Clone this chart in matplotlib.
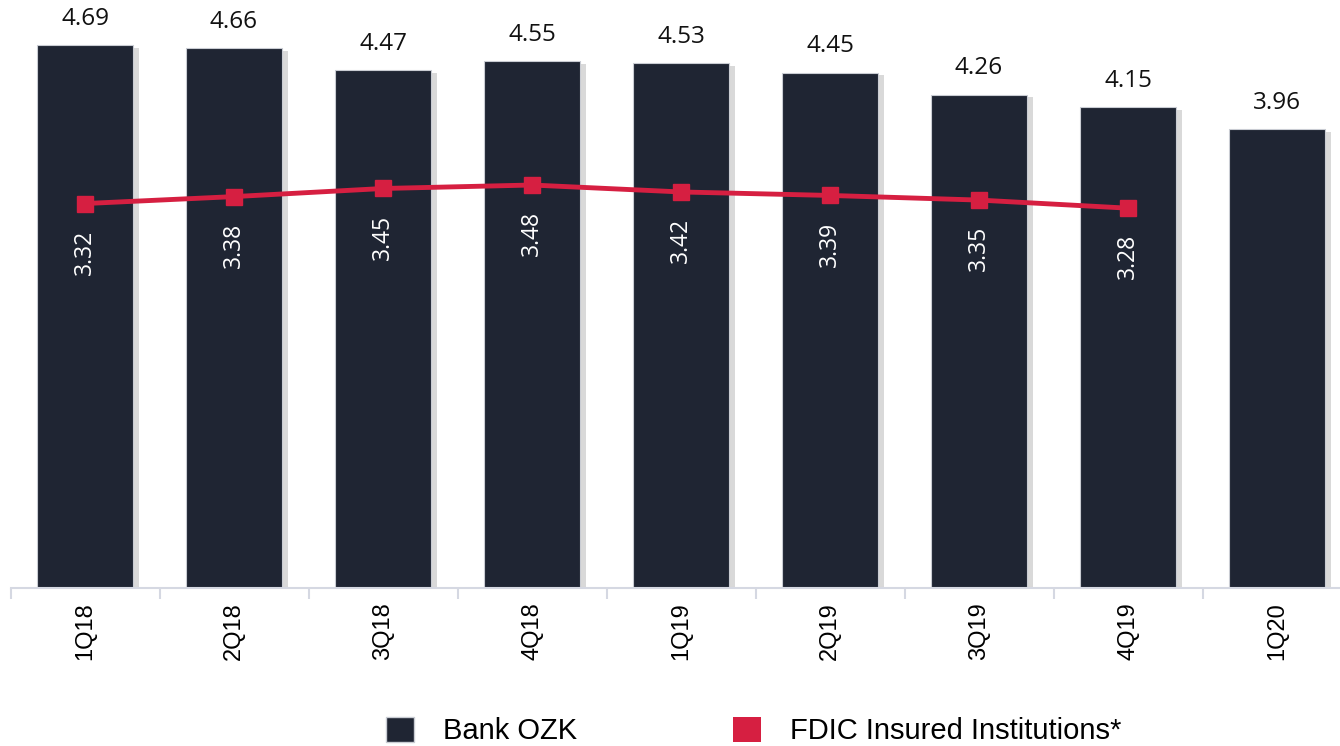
import numpy as np
import matplotlib.pyplot as plt
import matplotlib.patheffects as pe
from matplotlib.patches import Patch

# data
quarters = ["1Q18", "2Q18", "3Q18", "4Q18", "1Q19", "2Q19", "3Q19", "4Q19", "1Q20"]
bank_ozk = [4.69, 4.66, 4.47, 4.55, 4.53, 4.45, 4.26, 4.15, 3.96]
fdic = [3.32, 3.38, 3.45, 3.48, 3.42, 3.39, 3.35, 3.28]

bar_color = "#1f2533"
red = "#d61f41"
axis_color = "#d5d8e2"

fig = plt.figure(figsize=(13.4, 7.46), dpi=100)
W, H = 1340, 746
ax = fig.add_axes([10.5 / W, 1 - 588 / H, 1341 / W, 588 / H])

x = np.arange(len(quarters))
bars = ax.bar(x, bank_ozk, width=0.645, color=bar_color, edgecolor="#c9ccd3",
              linewidth=0.8, zorder=2)
for b in bars:
    b.set_path_effects([pe.SimplePatchShadow(offset=(4, -2), shadow_rgbFace="#a0a0a0", alpha=0.4),
                        pe.Normal()])

xf = np.arange(len(fdic))
ax.plot(xf, fdic, color=red, lw=3.5, marker="s", ms=12, zorder=3)

for xi, v in zip(x, bank_ozk):
    ax.annotate(f"{v:.2f}", (xi, v), xytext=(0, 19), textcoords="offset points",
                ha="center", va="center", fontsize=17.5, family="Open Sans", color="#111111")
for xi, v in zip(xf, fdic):
    ax.annotate(f"{v:.2f}", (xi, v), xytext=(0, -35), textcoords="offset points",
                ha="center", va="center", fontsize=16.5, family="Open Sans", color="white",
                rotation=90, zorder=4)

ax.set_xlim(-0.5, len(quarters) - 0.5)
ax.set_ylim(0, 588 / 115.8)

for s in ["top", "right", "left"]:
    ax.spines[s].set_visible(False)
ax.spines["bottom"].set_color(axis_color)
ax.spines["bottom"].set_linewidth(1.5)
ax.set_yticks([])

ax.set_xticks(x)
ax.set_xticklabels(quarters, rotation=90, fontsize=17, family="Liberation Sans", va="top")
ax.tick_params(axis="x", which="major", length=0, pad=10)
ax.set_xticks(np.arange(len(quarters) + 1) - 0.5, minor=True)
ax.tick_params(axis="x", which="minor", length=8, color=axis_color, width=1.5)

handles = [Patch(facecolor=bar_color, edgecolor="#c9ccd3", label="Bank OZK"),
           Patch(facecolor=red, label="FDIC Insured Institutions*")]
fig.legend(handles=handles, loc="center left", bbox_to_anchor=(386 / W, 15 / H), ncol=2,
           frameon=False, borderpad=0, borderaxespad=0, handlelength=0.97, handleheight=0.97,
           handletextpad=1.0, columnspacing=5.33,
           prop={"family": "Liberation Sans", "size": 21})

fig.savefig("out.png", dpi=100)
